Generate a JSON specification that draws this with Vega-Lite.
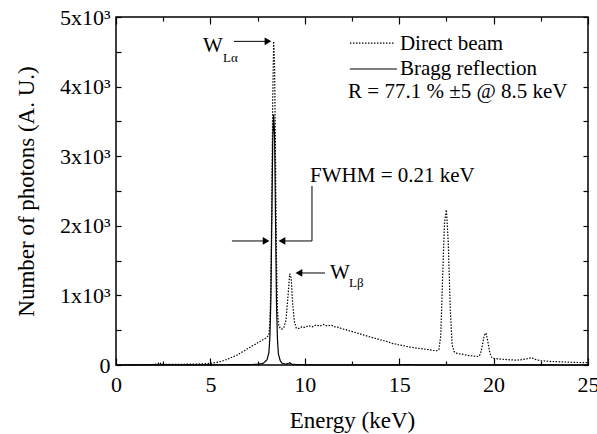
{
  "$schema": "https://vega.github.io/schema/vega-lite/v6.json",
  "width": 472,
  "height": 348,
  "autosize": {"type": "none"},
  "padding": {"left": 116, "top": 17, "right": 9, "bottom": 69},
  "background": "white",
  "config": {
    "font": "Liberation Serif",
    "view": {"stroke": "black", "strokeWidth": 1.5},
    "axis": {
      "domain": false, "grid": false, "tickColor": "black", "tickWidth": 1.2,
      "labelColor": "black", "titleColor": "black",
      "labelFont": "Liberation Serif", "titleFont": "Liberation Serif",
      "titleFontWeight": "normal", "labelFlush": false, "labelOverlap": false
    }
  },
  "datasets": {
    "spec": [
      {"E":0,"N":0,"series":"Direct beam"},{"E":0.5,"N":0,"series":"Direct beam"},{"E":1.0,"N":2,"series":"Direct beam"},{"E":1.5,"N":5,"series":"Direct beam"},{"E":2.0,"N":8,"series":"Direct beam"},{"E":2.2,"N":14,"series":"Direct beam"},{"E":2.3,"N":38,"series":"Direct beam"},{"E":2.4,"N":12,"series":"Direct beam"},{"E":2.7,"N":9,"series":"Direct beam"},{"E":3.0,"N":11,"series":"Direct beam"},{"E":3.4,"N":9,"series":"Direct beam"},{"E":3.8,"N":12,"series":"Direct beam"},{"E":4.2,"N":13,"series":"Direct beam"},{"E":4.6,"N":16,"series":"Direct beam"},{"E":5.0,"N":24,"series":"Direct beam"},{"E":5.3,"N":36,"series":"Direct beam"},{"E":5.6,"N":55,"series":"Direct beam"},{"E":5.9,"N":82,"series":"Direct beam"},{"E":6.2,"N":118,"series":"Direct beam"},{"E":6.4,"N":140,"series":"Direct beam"},{"E":6.6,"N":175,"series":"Direct beam"},{"E":6.8,"N":205,"series":"Direct beam"},{"E":7.0,"N":240,"series":"Direct beam"},{"E":7.2,"N":272,"series":"Direct beam"},{"E":7.4,"N":300,"series":"Direct beam"},{"E":7.6,"N":335,"series":"Direct beam"},{"E":7.8,"N":365,"series":"Direct beam"},{"E":8.0,"N":400,"series":"Direct beam"},{"E":8.1,"N":440,"series":"Direct beam"},{"E":8.15,"N":600,"series":"Direct beam"},{"E":8.2,"N":1100,"series":"Direct beam"},{"E":8.25,"N":2300,"series":"Direct beam"},{"E":8.3,"N":3800,"series":"Direct beam"},{"E":8.35,"N":4650,"series":"Direct beam"},{"E":8.4,"N":4300,"series":"Direct beam"},{"E":8.45,"N":2900,"series":"Direct beam"},{"E":8.5,"N":1500,"series":"Direct beam"},{"E":8.55,"N":800,"series":"Direct beam"},{"E":8.6,"N":590,"series":"Direct beam"},{"E":8.7,"N":525,"series":"Direct beam"},{"E":8.8,"N":515,"series":"Direct beam"},{"E":8.9,"N":545,"series":"Direct beam"},{"E":9.0,"N":640,"series":"Direct beam"},{"E":9.1,"N":950,"series":"Direct beam"},{"E":9.2,"N":1310,"series":"Direct beam"},{"E":9.28,"N":1250,"series":"Direct beam"},{"E":9.35,"N":900,"series":"Direct beam"},{"E":9.45,"N":620,"series":"Direct beam"},{"E":9.55,"N":530,"series":"Direct beam"},{"E":9.7,"N":525,"series":"Direct beam"},{"E":9.85,"N":550,"series":"Direct beam"},{"E":10.0,"N":540,"series":"Direct beam"},{"E":10.2,"N":565,"series":"Direct beam"},{"E":10.4,"N":548,"series":"Direct beam"},{"E":10.6,"N":575,"series":"Direct beam"},{"E":10.8,"N":558,"series":"Direct beam"},{"E":11.0,"N":582,"series":"Direct beam"},{"E":11.2,"N":560,"series":"Direct beam"},{"E":11.4,"N":572,"series":"Direct beam"},{"E":11.6,"N":548,"series":"Direct beam"},{"E":11.8,"N":540,"series":"Direct beam"},{"E":12.0,"N":518,"series":"Direct beam"},{"E":12.2,"N":505,"series":"Direct beam"},{"E":12.4,"N":488,"series":"Direct beam"},{"E":12.6,"N":472,"series":"Direct beam"},{"E":12.8,"N":458,"series":"Direct beam"},{"E":13.0,"N":440,"series":"Direct beam"},{"E":13.2,"N":425,"series":"Direct beam"},{"E":13.4,"N":408,"series":"Direct beam"},{"E":13.6,"N":393,"series":"Direct beam"},{"E":13.8,"N":378,"series":"Direct beam"},{"E":14.0,"N":362,"series":"Direct beam"},{"E":14.2,"N":348,"series":"Direct beam"},{"E":14.4,"N":335,"series":"Direct beam"},{"E":14.6,"N":312,"series":"Direct beam"},{"E":14.8,"N":302,"series":"Direct beam"},{"E":15.0,"N":287,"series":"Direct beam"},{"E":15.2,"N":280,"series":"Direct beam"},{"E":15.4,"N":266,"series":"Direct beam"},{"E":15.6,"N":256,"series":"Direct beam"},{"E":15.8,"N":248,"series":"Direct beam"},{"E":16.0,"N":240,"series":"Direct beam"},{"E":16.2,"N":233,"series":"Direct beam"},{"E":16.4,"N":226,"series":"Direct beam"},{"E":16.6,"N":218,"series":"Direct beam"},{"E":16.8,"N":210,"series":"Direct beam"},{"E":17.0,"N":205,"series":"Direct beam"},{"E":17.1,"N":220,"series":"Direct beam"},{"E":17.2,"N":420,"series":"Direct beam"},{"E":17.3,"N":1250,"series":"Direct beam"},{"E":17.4,"N":2050,"series":"Direct beam"},{"E":17.5,"N":2230,"series":"Direct beam"},{"E":17.6,"N":1750,"series":"Direct beam"},{"E":17.7,"N":850,"series":"Direct beam"},{"E":17.8,"N":300,"series":"Direct beam"},{"E":17.9,"N":195,"series":"Direct beam"},{"E":18.0,"N":172,"series":"Direct beam"},{"E":18.2,"N":160,"series":"Direct beam"},{"E":18.4,"N":152,"series":"Direct beam"},{"E":18.6,"N":140,"series":"Direct beam"},{"E":18.8,"N":133,"series":"Direct beam"},{"E":19.0,"N":126,"series":"Direct beam"},{"E":19.2,"N":122,"series":"Direct beam"},{"E":19.3,"N":155,"series":"Direct beam"},{"E":19.4,"N":275,"series":"Direct beam"},{"E":19.5,"N":420,"series":"Direct beam"},{"E":19.6,"N":460,"series":"Direct beam"},{"E":19.7,"N":330,"series":"Direct beam"},{"E":19.8,"N":170,"series":"Direct beam"},{"E":19.9,"N":112,"series":"Direct beam"},{"E":20.0,"N":95,"series":"Direct beam"},{"E":20.3,"N":86,"series":"Direct beam"},{"E":20.6,"N":80,"series":"Direct beam"},{"E":20.9,"N":74,"series":"Direct beam"},{"E":21.2,"N":70,"series":"Direct beam"},{"E":21.5,"N":76,"series":"Direct beam"},{"E":21.8,"N":92,"series":"Direct beam"},{"E":22.0,"N":105,"series":"Direct beam"},{"E":22.2,"N":80,"series":"Direct beam"},{"E":22.5,"N":62,"series":"Direct beam"},{"E":23.0,"N":52,"series":"Direct beam"},{"E":23.5,"N":46,"series":"Direct beam"},{"E":24.0,"N":40,"series":"Direct beam"},{"E":24.5,"N":36,"series":"Direct beam"},{"E":25.0,"N":32,"series":"Direct beam"},
      {"E":0,"N":0,"series":"Bragg reflection"},{"E":1,"N":1,"series":"Bragg reflection"},{"E":2,"N":2,"series":"Bragg reflection"},{"E":3,"N":2,"series":"Bragg reflection"},{"E":4,"N":3,"series":"Bragg reflection"},{"E":5,"N":3,"series":"Bragg reflection"},{"E":6,"N":4,"series":"Bragg reflection"},{"E":7,"N":6,"series":"Bragg reflection"},{"E":7.5,"N":9,"series":"Bragg reflection"},{"E":7.8,"N":25,"series":"Bragg reflection"},{"E":8.0,"N":75,"series":"Bragg reflection"},{"E":8.1,"N":180,"series":"Bragg reflection"},{"E":8.15,"N":400,"series":"Bragg reflection"},{"E":8.2,"N":900,"series":"Bragg reflection"},{"E":8.25,"N":2000,"series":"Bragg reflection"},{"E":8.3,"N":3200,"series":"Bragg reflection"},{"E":8.35,"N":3600,"series":"Bragg reflection"},{"E":8.4,"N":3300,"series":"Bragg reflection"},{"E":8.45,"N":2100,"series":"Bragg reflection"},{"E":8.5,"N":900,"series":"Bragg reflection"},{"E":8.55,"N":380,"series":"Bragg reflection"},{"E":8.6,"N":160,"series":"Bragg reflection"},{"E":8.7,"N":60,"series":"Bragg reflection"},{"E":8.8,"N":25,"series":"Bragg reflection"},{"E":9.0,"N":12,"series":"Bragg reflection"},{"E":9.15,"N":25,"series":"Bragg reflection"},{"E":9.2,"N":32,"series":"Bragg reflection"},{"E":9.3,"N":12,"series":"Bragg reflection"},{"E":9.6,"N":5,"series":"Bragg reflection"},{"E":10,"N":3,"series":"Bragg reflection"},{"E":12,"N":2,"series":"Bragg reflection"},{"E":15,"N":3,"series":"Bragg reflection"},{"E":15.5,"N":5,"series":"Bragg reflection"},{"E":16,"N":2,"series":"Bragg reflection"},{"E":20,"N":1,"series":"Bragg reflection"},{"E":25,"N":0,"series":"Bragg reflection"}
    ],
    "legend": [
      {"x": 12.39, "x2": 14.78, "y": 4626, "series": "Direct beam"},
      {"x": 12.39, "x2": 14.88, "y": 4253, "series": "Bragg reflection"}
    ],
    "harrow": [
      {"x": 6.25, "x2": 8.1, "y": 4650},
      {"x": 6.14, "x2": 8.0, "y": 1782},
      {"x": 8.7, "x2": 10.38, "y": 1782},
      {"x": 9.6, "x2": 11.07, "y": 1322}
    ],
    "varrow": [
      {"x": 10.38, "y": 1782, "y2": 2572}
    ],
    "heads": [
      {"x": 8.05, "y": 4650, "dir": "right"},
      {"x": 7.95, "y": 1782, "dir": "right"},
      {"x": 8.79, "y": 1782, "dir": "left"},
      {"x": 9.69, "y": 1322, "dir": "left"}
    ],
    "big": [
      {"x": 4.61, "y": 4497, "text": "W"},
      {"x": 11.33, "y": 1236, "text": "W"},
      {"x": 10.28, "y": 2629, "text": "FWHM = 0.21 keV"},
      {"x": 15.04, "y": 4526, "text": "Direct beam"},
      {"x": 15.04, "y": 4167, "text": "Bragg reflection"},
      {"x": 12.29, "y": 3836, "text": "R = 77.1 % ±5 @ 8.5 keV"}
    ],
    "small": [
      {"x": 5.67, "y": 4353, "text": "Lα"},
      {"x": 12.34, "y": 1121, "text": "Lβ"}
    ]
  },
  "resolve": {"axis": {"x": "independent", "y": "independent"}},
  "layer": [
    {
      "data": {"name": "spec"},
      "mark": {"type": "line", "color": "black", "strokeWidth": 1.2},
      "encoding": {
        "x": {"field": "E", "type": "quantitative", "scale": {"domain": [0, 25], "nice": false},
          "axis": {"orient": "bottom", "values": [0, 5, 10, 15, 20, 25], "tickSize": -7, "labelPadding": 16,
            "labelFontSize": 22, "title": "Energy (keV)", "titleFontSize": 23, "titlePadding": 14}},
        "y": {"field": "N", "type": "quantitative", "scale": {"domain": [0, 5000], "nice": false},
          "axis": {"orient": "left", "values": [0, 500, 1000, 1500, 2000, 2500, 3000, 3500, 4000, 4500, 5000],
            "tickSize": -5, "labelPadding": 11, "labelFontSize": 22,
            "labelExpr": "datum.value % 1000 === 0 ? (datum.value === 0 ? '0' : format(datum.value / 1000, 'd') + 'x10³') : ''",
            "title": "Number of photons (A. U.)", "titleFontSize": 23, "titlePadding": 21}},
        "detail": {"field": "series"},
        "strokeDash": {"field": "series", "type": "nominal",
          "scale": {"domain": ["Direct beam", "Bragg reflection"], "range": [[1.5, 1.5], [1, 0]]}, "legend": null},
        "order": {"field": "E", "type": "quantitative"}
      }
    },
    {
      "data": {"name": "legend"},
      "mark": {"type": "rule", "color": "black", "strokeWidth": 1.2},
      "encoding": {
        "x": {"field": "x", "type": "quantitative",
          "axis": {"orient": "top", "values": [0, 5, 10, 15, 20, 25], "tickSize": -7, "labels": false, "title": null}},
        "x2": {"field": "x2"},
        "y": {"field": "y", "type": "quantitative",
          "axis": {"orient": "right", "values": [0, 500, 1000, 1500, 2000, 2500, 3000, 3500, 4000, 4500, 5000],
            "tickSize": -5, "labels": false, "title": null}},
        "strokeDash": {"field": "series", "type": "nominal",
          "scale": {"domain": ["Direct beam", "Bragg reflection"], "range": [[1.5, 1.5], [1, 0]]}, "legend": null}
      }
    },
    {
      "data": {"name": "harrow"},
      "mark": {"type": "rule", "color": "black", "strokeWidth": 1},
      "encoding": {
        "x": {"field": "x", "type": "quantitative",
          "axis": {"orient": "bottom", "values": [2.5, 7.5, 12.5, 17.5, 22.5], "tickSize": -4, "labels": false, "title": null}},
        "x2": {"field": "x2"},
        "y": {"field": "y", "type": "quantitative", "axis": null}
      }
    },
    {
      "data": {"name": "varrow"},
      "mark": {"type": "rule", "color": "black", "strokeWidth": 1},
      "encoding": {
        "x": {"field": "x", "type": "quantitative",
          "axis": {"orient": "top", "values": [2.5, 7.5, 12.5, 17.5, 22.5], "tickSize": -4, "labels": false, "title": null}},
        "y": {"field": "y", "type": "quantitative", "axis": null},
        "y2": {"field": "y2"}
      }
    },
    {
      "data": {"name": "heads"},
      "mark": {"type": "point", "filled": true, "color": "black", "opacity": 1, "size": 60},
      "encoding": {
        "x": {"field": "x", "type": "quantitative", "axis": null},
        "y": {"field": "y", "type": "quantitative", "axis": null},
        "shape": {"field": "dir", "type": "nominal",
          "scale": {"domain": ["right", "left"], "range": ["triangle-right", "triangle-left"]}, "legend": null}
      }
    },
    {
      "data": {"name": "big"},
      "mark": {"type": "text", "align": "left", "baseline": "alphabetic", "fontSize": 21, "color": "black", "font": "Liberation Serif"},
      "encoding": {
        "x": {"field": "x", "type": "quantitative", "axis": null},
        "y": {"field": "y", "type": "quantitative", "axis": null},
        "text": {"field": "text"}
      }
    },
    {
      "data": {"name": "small"},
      "mark": {"type": "text", "align": "left", "baseline": "alphabetic", "fontSize": 13, "color": "black", "font": "Liberation Serif"},
      "encoding": {
        "x": {"field": "x", "type": "quantitative", "axis": null},
        "y": {"field": "y", "type": "quantitative", "axis": null},
        "text": {"field": "text"}
      }
    }
  ]
}
